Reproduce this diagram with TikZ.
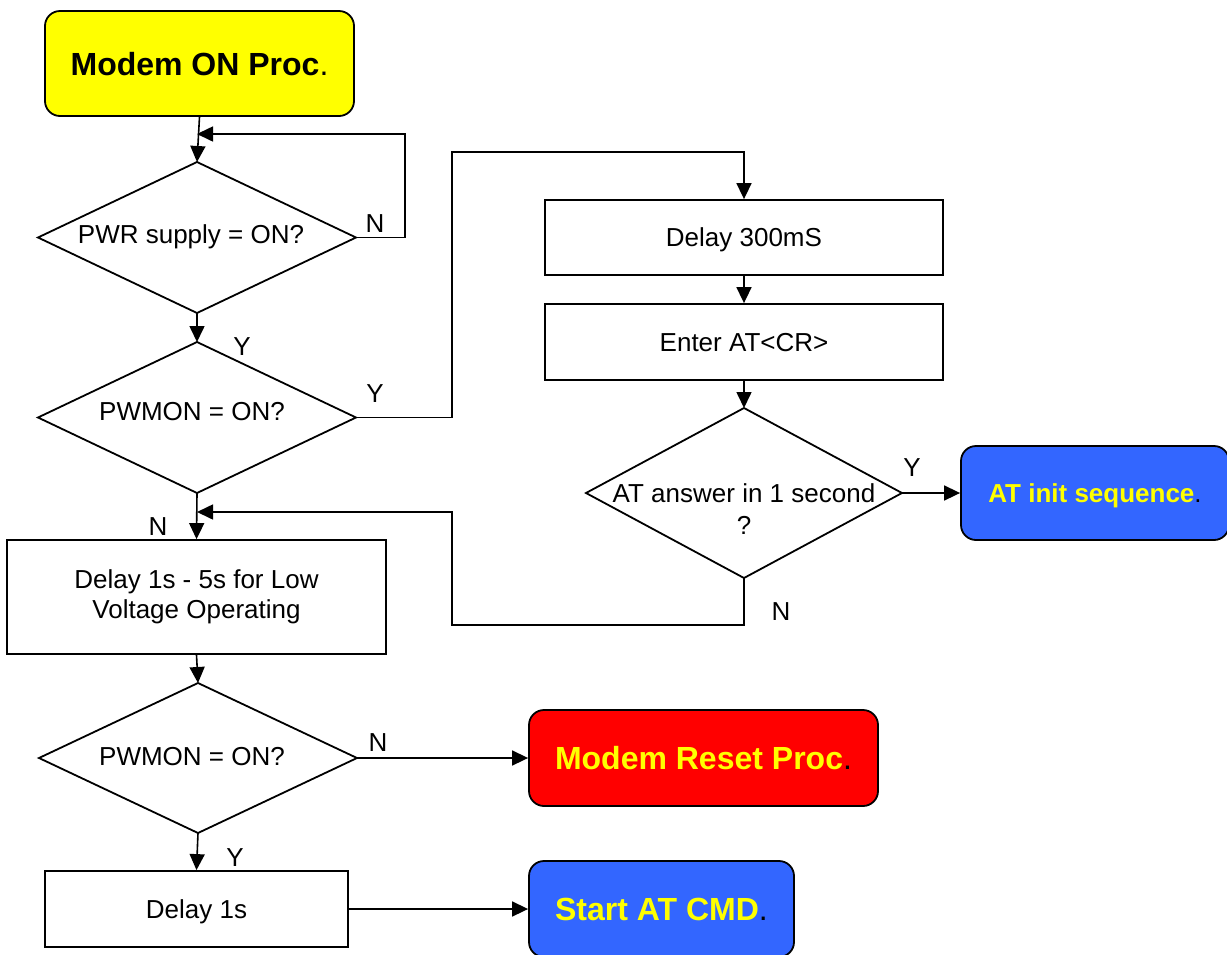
\documentclass[tikz,border=0pt]{standalone}
\usepackage{fontspec}
\setmainfont{Liberation Sans}
\usetikzlibrary{shapes.geometric,arrows.meta}
\definecolor{procyellow}{HTML}{FFFF00}
\definecolor{procblue}{HTML}{3366FF}
\definecolor{procred}{HTML}{FF0000}

\begin{document}
\begin{tikzpicture}[x=1pt,y=-1pt,
  base/.style={font=\fontsize{26}{30}\selectfont},
  oneline/.style={text height=18.7pt, text depth=0pt},
  stepbox/.style={draw, line width=1.8pt, rectangle, inner sep=0pt, base, align=center},
  procbox/.style={draw, line width=1.8pt, rounded corners=15pt, inner sep=0pt,
                  font=\fontsize{32}{36}\selectfont\bfseries, text=procyellow,
                  text height=23pt, text depth=0pt},
  decision/.style={draw, line width=1.8pt, diamond, inner sep=0pt, outer sep=0pt},
  dtext/.style={base, align=center, inner sep=0pt},
  flag/.style={base, inner sep=0pt},
  flow/.style={line width=1.6pt, -{Triangle[length=16pt,width=15pt]}},
]
\useasboundingbox (0,0) rectangle (1227,954);
\clip (0,0) rectangle (1227,954);

% ---- terminals ----
\node[procbox, fill=procyellow, text=black, minimum width=309pt, minimum height=105pt]
  (start) at (199.5,63.5) {Modem ON Proc\textmd{.}};
\node[procbox, fill=procblue, minimum width=268pt, minimum height=94pt,
  font=\fontsize{26}{30}\selectfont\bfseries, text height=18.7pt]
  (atinit) at (1095,493) {AT init sequence\textcolor{black}{\textmd{.}}};
\node[procbox, fill=procred, minimum width=349pt, minimum height=96pt]
  (reset) at (703.5,758) {Modem Reset Proc\textcolor{black}{\textmd{.}}};
\node[procbox, fill=procblue, minimum width=265pt, minimum height=96pt]
  (startat) at (661.5,909) {Start AT CMD\textcolor{black}{\textmd{.}}};

% ---- decisions ----
\node[decision, minimum width=318pt, minimum height=151pt] (pwr) at (197,237.5) {};
\node[dtext, oneline] (pwrq) at (191,234) {PWR supply = ON?};
\node[decision, minimum width=318pt, minimum height=151pt] (pwmon) at (197,417.5) {};
\node[dtext, oneline] (pwmonq) at (192,411) {PWMON = ON?};
\node[decision, minimum width=316pt, minimum height=170pt] (atq) at (744,493) {};
\node[dtext, font=\fontsize{26}{32}\selectfont] (atqq) at (744,509) {AT answer in 1 second\\?};
\node[decision, minimum width=318pt, minimum height=150pt] (pwmon2) at (198,758) {};
\node[dtext, oneline] (pwmon2q) at (192,756) {PWMON = ON?};

% ---- process steps ----
\node[stepbox, oneline, minimum width=398pt, minimum height=75pt] (dly) at (744,237.5) {Delay 300mS};
\node[stepbox, oneline, minimum width=398pt, minimum height=76pt] (atcr) at (744,342) {Enter AT<CR>};
\node[stepbox, minimum width=379pt, minimum height=114pt] (lowv) at (196.5,597)
  {Delay 1s - 5s for Low\\Voltage Operating};
\node[stepbox, oneline, minimum width=303pt, minimum height=76pt] (dly1) at (196.5,909) {Delay 1s};

% ---- connectors ----
\coordinate (j1) at (197,134);
\coordinate (r1) at (405,134);
\coordinate (u1) at (452,152);
\coordinate (j2) at (197,512);
\coordinate (l2) at (452,625);

\draw[flow] (start.south) -- (pwr.north);
\draw[flow] (pwr.east) -| (r1) -- (j1);
\draw[flow] (pwr.south) -- (pwmon.north);
\draw[flow] (pwmon.east) -| (u1) -| (dly.north);
\draw[flow] (dly.south) -- (atcr.north);
\draw[flow] (atcr.south) -- (atq.north);
\draw[flow] (atq.east) -- (atinit.west);
\draw[flow] (atq.south) |- (l2) |- (j2);
\draw[flow] (pwmon.south) -- (lowv.north);
\draw[flow] (lowv.south) -- (pwmon2.north);
\draw[flow] (pwmon2.east) -- (reset.west);
\draw[flow] (pwmon2.south) -- (dly1.north);
\draw[flow] (dly1.east) -- (startat.west);

% ---- branch labels ----
\node[flag, oneline] (n1) at (375,223) {N};
\node[flag, oneline] (y1) at (242,346) {Y};
\node[flag, oneline] (y2) at (375,393) {Y};
\node[flag, oneline] (n2) at (158,526) {N};
\node[flag, oneline] (y3) at (912,467) {Y};
\node[flag, oneline] (n3) at (781,611) {N};
\node[flag, oneline] (n4) at (378,742) {N};
\node[flag, oneline] (y4) at (235,857) {Y};
\end{tikzpicture}
\end{document}
